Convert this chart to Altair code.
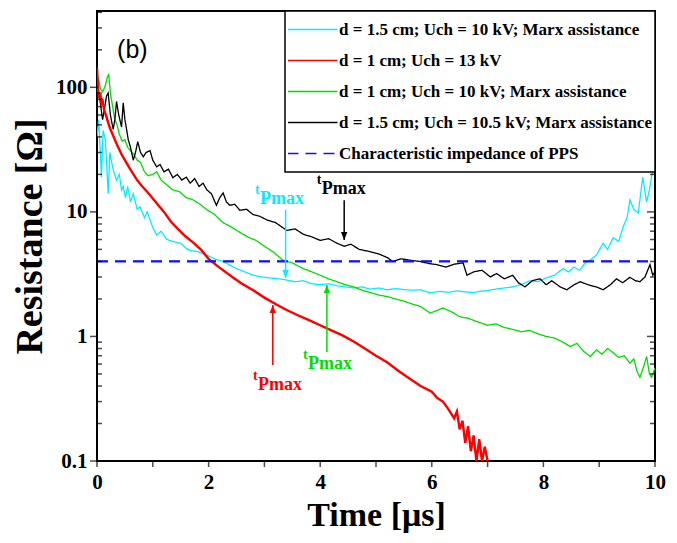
import altair as alt
import pandas as pd

# ---------------- data ----------------
S_CYAN = "d = 1.5 cm; Uch = 10 kV; Marx assistance"
S_RED = "d = 1 cm; Uch = 13 kV"
S_GREEN = "d = 1 cm; Uch = 10 kV; Marx assistance"
S_BLACK = "d = 1.5 cm; Uch = 10.5 kV; Marx assistance"
S_PPS = "Characteristic impedance of PPS"
series_names = [S_CYAN, S_RED, S_GREEN, S_BLACK, S_PPS]
series_colors = ["#00eeff", "#ff0000", "#00dd00", "#000000", "#1414e6"]
series_dash = [[1, 0], [1, 0], [1, 0], [1, 0], [11, 7]]

cyan_t = [0.00, 0.03, 0.06, 0.08, 0.11, 0.15, 0.20, 0.23, 0.27, 0.30, 0.35, 0.40, 0.44, 0.47, 0.51, 0.55,
          0.60, 0.65, 0.72, 0.77, 0.85, 0.90, 1.00, 1.07, 1.15, 1.25, 1.36, 1.50, 1.60, 1.67, 1.80, 1.97,
          2.10, 2.26, 2.40, 2.50, 2.65, 2.80, 2.95, 3.10, 3.25, 3.38, 3.55, 3.70, 3.85, 4.00, 4.15, 4.30,
          4.45, 4.60, 4.75, 4.90, 5.05, 5.20, 5.35, 5.50, 5.65, 5.80, 5.97, 6.15, 6.30, 6.45, 6.60, 6.75,
          6.86, 7.00, 7.15, 7.30, 7.45, 7.60, 7.76, 7.90, 8.05, 8.20, 8.35, 8.45, 8.55, 8.65, 8.75, 8.84,
          8.95, 9.07, 9.15, 9.25, 9.35, 9.43, 9.50, 9.55, 9.62, 9.70, 9.78, 9.85, 9.90, 9.95, 10.0]
cyan_R = [40, 55, 30, 19, 45, 38, 14, 30, 24, 21, 18, 20, 15, 16, 13, 16,
          12, 14, 10.5, 11, 9, 10, 7.5, 6.5, 7, 6.0, 5.8, 5.6, 5.1, 4.9, 4.8, 4.5,
          4.2, 4.0, 3.7, 3.5, 3.3, 3.1, 3.0, 2.95, 2.9, 2.85, 2.75, 2.8, 2.65, 2.6, 2.65, 2.55,
          2.5, 2.45, 2.5, 2.4, 2.45, 2.37, 2.42, 2.38, 2.35, 2.37, 2.24, 2.3, 2.26, 2.32, 2.28, 2.25,
          2.3, 2.34, 2.4, 2.45, 2.5, 2.6, 2.8, 2.75, 2.95, 3.1, 3.5, 3.3, 3.6, 3.4, 3.9, 4.1,
          4.5, 5.6, 5.0, 6.2, 5.8, 7.6, 9.0, 12.5, 10.5, 9.8, 19, 12, 15, 20.5, 22]

red_t = [0.00, 0.02, 0.04, 0.06, 0.08, 0.10, 0.13, 0.16, 0.20, 0.24, 0.28, 0.33, 0.38, 0.44, 0.50, 0.57,
         0.64, 0.72, 0.80, 0.90, 1.00, 1.10, 1.20, 1.32, 1.45, 1.58, 1.72, 1.86, 2.00, 2.15, 2.30, 2.45,
         2.60, 2.80, 3.00, 3.20, 3.40, 3.60, 3.80, 4.00, 4.20, 4.40, 4.60, 4.80, 5.00, 5.20, 5.40, 5.60,
         5.80, 6.00, 6.10, 6.20, 6.30, 6.40, 6.45, 6.50, 6.55, 6.60, 6.65, 6.70, 6.75, 6.80, 6.85, 6.90,
         6.95, 7.00]
red_R = [145, 95, 82, 88, 75, 78, 65, 60, 52, 46, 42, 37, 33, 29, 26, 23,
         20.5, 18, 16.2, 14.5, 12.8, 11.3, 10.0, 8.4, 7.3, 6.4, 5.7, 5.0, 4.2, 3.7, 3.3, 2.95,
         2.65, 2.35, 2.05, 1.82, 1.63, 1.48, 1.35, 1.23, 1.12, 1.02, 0.91, 0.80, 0.70, 0.62, 0.53, 0.46,
         0.40, 0.36, 0.32, 0.30, 0.26, 0.22, 0.25, 0.18, 0.21, 0.14, 0.19, 0.12, 0.16, 0.10, 0.15, 0.10,
         0.13, 0.10]

green_t = [0.00, 0.03, 0.06, 0.10, 0.14, 0.18, 0.21, 0.24, 0.28, 0.32, 0.36, 0.40, 0.45, 0.50, 0.55, 0.60,
           0.66, 0.72, 0.78, 0.85, 0.92, 1.00, 1.07, 1.15, 1.25, 1.36, 1.48, 1.60, 1.72, 1.85, 1.97, 2.10,
           2.26, 2.40, 2.55, 2.70, 2.85, 3.00, 3.15, 3.33, 3.50, 3.70, 3.85, 4.00, 4.15, 4.30, 4.45, 4.60,
           4.75, 4.90, 5.05, 5.20, 5.35, 5.50, 5.65, 5.80, 5.97, 6.10, 6.20, 6.35, 6.50, 6.65, 6.80, 7.00,
           7.15, 7.30, 7.45, 7.60, 7.75, 7.90, 8.05, 8.20, 8.35, 8.48, 8.60, 8.72, 8.84, 8.95, 9.05, 9.15,
           9.25, 9.35, 9.45, 9.55, 9.62, 9.68, 9.73, 9.80, 9.85, 9.90, 9.94, 10.0]
green_R = [105, 115, 98, 92, 100, 118, 128, 90, 70, 55, 50, 42, 37, 38, 33, 31,
           29, 26, 25, 21, 19.5, 20, 21, 18, 16.5, 15, 14.5, 13, 12.5, 11.5, 10.4, 9.6,
           8.2, 7.6, 6.9, 6.3, 5.9, 5.3, 4.8, 4.1, 3.9, 3.5, 3.3, 3.1, 2.9, 2.75, 2.6, 2.5,
           2.35, 2.25, 2.15, 2.09, 2.0, 1.92, 1.82, 1.74, 1.54, 1.62, 1.69, 1.58, 1.44, 1.4, 1.32, 1.23,
           1.26, 1.18, 1.14, 1.09, 1.12, 1.05, 1.0, 0.97, 0.9, 0.83, 0.88, 0.76, 0.69, 0.78, 0.72, 0.8,
           0.74, 0.68, 0.7, 0.61, 0.66, 0.52, 0.47, 0.58, 0.69, 0.5, 0.47, 0.56]

black_t = [0.00, 0.03, 0.06, 0.10, 0.14, 0.17, 0.20, 0.24, 0.29, 0.32, 0.35, 0.39, 0.44, 0.47, 0.50, 0.53,
           0.56, 0.60, 0.65, 0.69, 0.73, 0.78, 0.83, 0.88, 0.95, 1.00, 1.07, 1.13, 1.20, 1.28, 1.36, 1.44,
           1.52, 1.60, 1.67, 1.75, 1.83, 1.90, 1.97, 2.05, 2.14, 2.20, 2.26, 2.32, 2.38, 2.47, 2.56, 2.68,
           2.80, 2.92, 3.05, 3.20, 3.40, 3.55, 3.70, 3.85, 4.00, 4.15, 4.30, 4.43, 4.55, 4.70, 4.89, 5.05,
           5.20, 5.30, 5.45, 5.60, 5.79, 5.95, 6.09, 6.25, 6.40, 6.56, 6.63, 6.75, 6.90, 7.05, 7.16, 7.30,
           7.45, 7.55, 7.67, 7.80, 7.94, 8.05, 8.15, 8.30, 8.42, 8.55, 8.66, 8.80, 8.95, 9.07, 9.20, 9.31,
           9.42, 9.55, 9.65, 9.73, 9.82, 9.91, 9.96, 10.0]
black_R = [80, 92, 75, 55, 70, 85, 90, 60, 46, 55, 77, 60, 48, 75, 55, 46,
           38, 33, 26, 30, 36.6, 30, 27.7, 30, 31, 26, 23, 24, 21, 22, 18.8, 20,
           18, 19, 17, 18.5, 16, 17, 15, 14, 11.3, 13, 14.2, 12, 11.3, 11.5, 10.3, 10.5,
           9.5, 9.2, 8.6, 8.2, 7.1, 7.3, 6.6, 6.3, 5.9, 6.1, 5.6, 5.3, 5.5, 5.0, 4.8, 4.6,
           4.3, 4.0, 4.2, 4.1, 4.0, 3.85, 3.77, 3.6, 3.8, 3.9, 3.1, 3.3, 3.4, 3.0, 3.2, 2.9,
           3.1, 2.7, 2.5, 2.8, 2.9, 2.6, 2.8, 2.5, 2.37, 2.6, 2.75, 2.6, 2.5, 2.37, 2.6, 2.9,
           2.7, 2.98, 2.8, 2.75, 3.0, 3.77, 3.1, 3.3]

pps_t = [0.0, 10.0]
pps_R = [4.0, 4.0]

# annotations (tPmax markers)
ann_series = [S_CYAN, S_BLACK, S_GREEN, S_RED]
ann_text_t = [2.92, 4.03, 3.78, 2.885]
ann_text_R = [12.7, 15.3, 0.60, 0.408]
arrow_t = [3.38, 4.43, 4.12, 3.15]
arrow_tail_R = [10.4, 12.4, 0.75, 0.59]
arrow_tip_R = [2.95, 5.96, 2.59, 1.79]
arrow_dir = ["down", "down", "up", "up"]

panel_label = "(b)"
panel_label_t = [0.36]
panel_label_R = [200]

x_ticks = [0, 1, 2, 3, 4, 5, 6, 7, 8, 9, 10]
y_major = [0.1, 1, 10, 100]
y_minor = [0.2, 0.3, 0.4, 0.5, 0.6, 0.7, 0.8, 0.9,
           2, 3, 4, 5, 6, 7, 8, 9,
           20, 30, 40, 50, 60, 70, 80, 90,
           200, 300, 400]
y_ticks = sorted(y_major + y_minor)

# ---------------- frames ----------------
rows = []
for name, ts, rs in [(S_CYAN, cyan_t, cyan_R), (S_RED, red_t, red_R), (S_GREEN, green_t, green_R),
                     (S_BLACK, black_t, black_R), (S_PPS, pps_t, pps_R)]:
    for t, r in zip(ts, rs):
        rows.append({"series": name, "t": t, "R": r})
df = pd.DataFrame(rows)

ann = pd.DataFrame({"series": ann_series, "t": ann_text_t, "R": ann_text_R,
                    "ta": arrow_t, "R0": arrow_tail_R, "R1": arrow_tip_R, "dir": arrow_dir})
lab = pd.DataFrame({"t": panel_label_t, "R": panel_label_R, "txt": [panel_label]})

X_MIN, X_MAX = min(x_ticks), max(x_ticks)
Y_MIN = min(y_major)
left_major = pd.DataFrame({"R": y_major, "t": [X_MIN] * len(y_major)})
left_minor = pd.DataFrame({"R": y_minor, "t": [X_MIN] * len(y_minor)})
right_major = pd.DataFrame({"R": y_major, "t": [X_MAX] * len(y_major)})
right_minor = pd.DataFrame({"R": y_minor, "t": [X_MAX] * len(y_minor)})
bottom_t = pd.DataFrame({"t": x_ticks, "R": [Y_MIN] * len(x_ticks)})

SERIF = "Liberation Serif"
xscale = alt.Scale(domain=[0, 10], nice=False)
yscale = alt.Scale(type="log", domain=[0.1, 410], nice=False)
cscale = alt.Scale(domain=series_names, range=series_colors)
dscale = alt.Scale(domain=series_names, range=series_dash)

major_y = "indexof([0.1, 1, 10, 100], datum.value) >= 0"

xq = alt.X("t:Q", scale=xscale)
yq = alt.Y("R:Q", scale=yscale)

lines = alt.Chart(df).mark_line(clip=True, strokeWidth=1.3).encode(
    x=alt.X("t:Q", scale=xscale, axis=alt.Axis(
        title="Time [μs]", values=x_ticks, grid=False, domain=False, ticks=False,
        labelExpr="datum.value % 2 == 0 ? datum.label : ''",
        labelFlush=False, labelOverlap=False,
        labelFont=SERIF, labelFontSize=21, labelFontWeight="bold", labelColor="black", labelPadding=10,
        titleFont=SERIF, titleFontSize=34, titleFontWeight="bold", titleColor="black", titlePadding=6)),
    y=alt.Y("R:Q", scale=yscale, axis=alt.Axis(
        title="Resistance [Ω]", values=y_ticks, grid=False, domain=False, ticks=False,
        labelExpr=major_y + " ? datum.label : ''", format="~g", labelOverlap=False,
        labelFont=SERIF, labelFontSize=21, labelFontWeight="bold", labelColor="black", labelPadding=10,
        titleFont=SERIF, titleFontSize=38, titleFontWeight="bold", titleColor="black", titlePadding=6)),
    color=alt.Color("series:N", scale=cscale, sort=series_names, legend=alt.Legend(
        title=None, orient="top-right", offset=0, fillColor="white", strokeColor="black",
        padding=3, labelFont=SERIF, labelFontWeight="bold", labelFontSize=17, labelColor="black",
        symbolType="M-1.43,0L1.43,0", symbolSize=1225, symbolStrokeWidth=1.5, symbolOffset=6,
        rowPadding=0, clipHeight=31, labelLimit=420, labelOffset=8)),
    strokeDash=alt.StrokeDash("series:N", scale=dscale, sort=series_names, legend=alt.Legend(title=None)),
)

red_thick = alt.Chart(df).transform_filter(alt.datum.series == S_RED).mark_line(
    clip=True, strokeWidth=2.4, color="#ff0000").encode(x=xq, y=yq)

pps_thick = alt.Chart(df).transform_filter(alt.datum.series == S_PPS).mark_line(
    clip=True, strokeWidth=2.2, color="#1414e6", strokeDash=[11, 7]).encode(x=xq, y=yq)

rules = alt.Chart(ann).mark_rule(strokeWidth=1.5).encode(
    x=alt.X("ta:Q", scale=xscale),
    y=alt.Y("R0:Q", scale=yscale),
    y2="R1:Q",
    color=alt.Color("series:N", scale=cscale, legend=None),
)

heads = alt.Chart(ann).mark_point(filled=True, opacity=1, size=256, strokeWidth=0).encode(
    x=alt.X("ta:Q", scale=xscale),
    y=alt.Y("R1:Q", scale=yscale),
    shape=alt.Shape("dir:N", scale=alt.Scale(domain=["down", "up"],
                    range=["M0,0L-0.4,-1L0.4,-1Z", "M0,0L-0.4,1L0.4,1Z"]), legend=None),
    color=alt.Color("series:N", scale=cscale, legend=None),
)

pmax = alt.Chart(ann).mark_text(font=SERIF, fontWeight="bold", fontSize=18, align="left",
                                baseline="middle").encode(
    x=xq, y=yq,
    text=alt.value("Pmax"),
    color=alt.Color("series:N", scale=cscale, legend=None),
)

tsym = alt.Chart(ann).mark_text(font=SERIF, fontWeight="bold", fontSize=14, align="left",
                                baseline="middle", dx=-5, dy=-9).encode(
    x=xq, y=yq,
    text=alt.value("t"),
    color=alt.Color("series:N", scale=cscale, legend=None),
)

plabel = alt.Chart(lab).mark_text(font="Liberation Sans", fontSize=25, align="left",
                                  baseline="middle", color="black").encode(
    x=xq, y=yq, text="txt:N",
)

def hticks(frame, size, off):
    return alt.Chart(frame).mark_tick(orient="horizontal", size=size, thickness=1.5,
                                      color="black", xOffset=off).encode(x=xq, y=yq)

tk_lmaj = hticks(left_major, 8, -3)
tk_lmin = hticks(left_minor, 5, 2.5)
tk_rmaj = hticks(right_major, 8, -4)
tk_rmin = hticks(right_minor, 5, -2.5)
tk_bot = alt.Chart(bottom_t).mark_tick(orient="vertical", size=6, thickness=1.5,
                                       color="black", yOffset=3).encode(x=xq, y=yq)

chart = alt.layer(lines, red_thick, pps_thick, rules, heads, pmax, tsym, plabel,
                  tk_lmaj, tk_lmin, tk_rmaj, tk_rmin, tk_bot).properties(
    width=558, height=450,
    autosize=alt.AutoSizeParams(type="none"),
    padding={"left": 89, "top": 3, "right": 14, "bottom": 74},
).configure_view(stroke="black", strokeWidth=2).configure_legend(strokeWidth=1.5)

chart.save("out.html", embed_options={"renderer": "svg", "actions": False})
